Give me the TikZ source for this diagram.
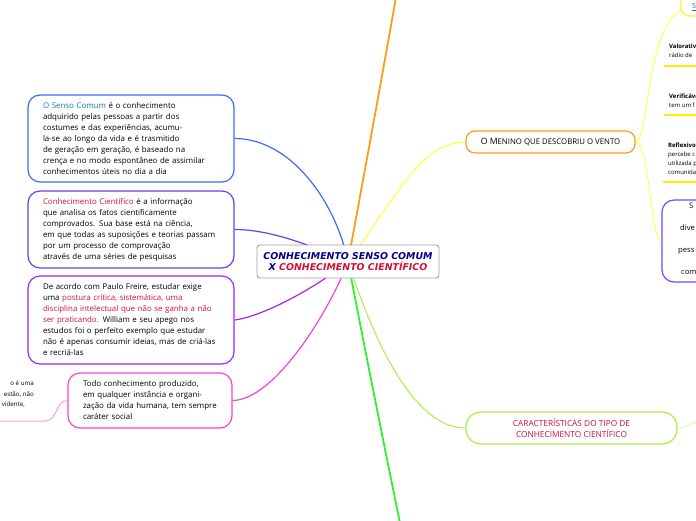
\documentclass[tikz,border=0pt]{standalone}
\usepackage{fontspec}
\setmainfont{Open Sans}
\newfontfamily\cfont{DejaVu Sans}
\usetikzlibrary{backgrounds}
\definecolor{cBlue}{HTML}{3D6BF5}
\definecolor{cViolet}{HTML}{6B3DF0}
\definecolor{cPurple}{HTML}{A526EE}
\definecolor{cPink}{HTML}{FF3FD2}
\definecolor{cPinkL}{HTML}{FF99EE}
\definecolor{cOrange}{HTML}{FF9A1A}
\definecolor{cYellow}{HTML}{FFFF33}
\definecolor{cYG}{HTML}{A8F040}
\definecolor{cYGL}{HTML}{CCFF99}
\definecolor{cGreen}{HTML}{33EE33}
\definecolor{cNavy}{HTML}{00008B}
\definecolor{cRed}{HTML}{D0103A}
\definecolor{cLink}{HTML}{1A78C2}
\definecolor{cRB}{HTML}{7A44FF}
\definecolor{cUnder}{HTML}{FFEE00}
\tikzset{
  textbox/.style={draw, line width=1.2pt, rounded corners=12pt, fill=white, align=left,
    inner xsep=15pt, inner ysep=0pt, font=\fontsize{7.9}{11}\selectfont},
  smalltext/.style={font=\fontsize{6}{9}\selectfont, align=left, inner sep=0pt, anchor=north west},
  conn/.style={line width=1.2pt},
  underln/.style={draw=cUnder, line width=1.6pt},
}
\begin{document}
\begin{tikzpicture}[x=1pt,y=-1pt]
\useasboundingbox (0,0) rectangle (696,520);
\clip (0,0) rectangle (696,520);
% central node
\node[draw=gray!75, line width=0.9pt, rounded corners=3pt, fill=white, minimum width=182pt,
  minimum height=33pt, align=center, inner sep=0pt,
  font=\cfont\bfseries\itshape\fontsize{9.4}{11}\selectfont] (c) at (348,261.5)
  {\textcolor{cNavy}{CONHECIMENTO SENSO COMUM}\\\textcolor{cNavy}{X} \textcolor{cRed}{CONHECIMENTO CIENTÍFICO}};
% left boxes
\node[textbox, draw=cBlue, text width=176pt, minimum height=87pt] (b1) at (131,138.5)
  {\textcolor{cLink}{O Senso Comum} é o conhecimento\\adquirido pelas pessoas a partir dos\\costumes e das experiências, acumu-\\la-se ao longo da vida e é trasmitido\\de geração em geração, é baseado na\\crença e no modo espontâneo de assimilar\\conhecimentos úteis no dia a dia};
\node[textbox, draw=cViolet, text width=176pt, minimum height=77pt] (b2) at (131,229.5)
  {\textcolor{cRed}{Conhecimento Científico} é a informação\\que analisa os fatos cientificamente\\comprovados. Sua base está na ciência,\\em que todas as suposições e teorias passam\\por um processo de comprovação\\através de uma séries de pesquisas};
\node[textbox, draw=cPurple, text width=176pt, minimum height=88pt] (b3) at (131,320)
  {De acordo com Paulo Freire, estudar exige\\uma \textcolor{cRed}{postura crítica, sistemática, uma}\\\textcolor{cRed}{disciplina intelectual que não se ganha a não}\\\textcolor{cRed}{ser praticando.} William e seu apego nos\\estudos foi o perfeito exemplo que estudar\\não é apenas consumir ideias, mas de criá-las\\e recriá-las};
\node[textbox, draw=cPink, text width=134pt, minimum height=55pt] (b4) at (150,400.5)
  {Todo conhecimento produzido,\\em qualquer instância e organi-\\zação da vida humana, tem sempre\\caráter social};
% bottom-left fragment
\node[smalltext, anchor=north east, align=right, font=\fontsize{6.2}{10.5}\selectfont] (bl) at (34,381)
  {o é uma\\estão, não\\vidente,\hspace*{9pt}};
\coordinate (blA) at (-5,421);
\coordinate (blB) at (45,421);
% right side
\node[draw=cOrange, line width=1.2pt, rounded corners=9pt, minimum width=169pt, minimum height=22pt,
  fill=white, inner sep=0pt] (men) at (550.5,142)
  {\fontsize{8.7}{10}\selectfont O M\fontsize{7.8}{10}\selectfont ENINO QUE DESCOBRIU O VENTO};
\node[draw=cYG, line width=1.2pt, rounded corners=15pt, minimum width=211pt, minimum height=32pt,
  fill=white, align=center, text=cRed, inner sep=0pt, font=\fontsize{8.3}{10.5}\selectfont] (car) at (571.5,428)
  {CARACTERÍSTICAS DO TIPO DE\\CONHECIMENTO CIENTÍFICO};
\node[draw=cYellow!90!orange, line width=1.2pt, rounded corners=8pt, minimum width=49pt, minimum height=28pt,
  fill=white, inner sep=0pt] (sn) at (705.5,2) {};
\node[inner sep=0pt, text=cLink, font=\fontsize{7.2}{8}\selectfont] (snt) at (694,7) {\underline{S}};
\node[draw=cRB, line width=1.2pt, rounded corners=12pt, minimum width=78pt, minimum height=82pt,
  fill=white, inner sep=0pt] (rb) at (701,241) {};
\node[inner sep=0pt, anchor=north west, align=left, font=\fontsize{7.6}{22}\selectfont] (rbt) at (678,203)
  {\hspace*{11pt}S\\\hspace*{2pt}dive\\pess\\\hspace*{3pt}com};
\node[smalltext] (val) at (669,44) {\textbf{Valorativ}\\rádio de};
\node[smalltext] (ver) at (669,94) {\textbf{Verificáve}\\tem um f};
\node[smalltext] (ref) at (668,143) {\textbf{Reflexivo}\\percebe c\\utilizada p\\comunida};
\coordinate (u1a) at (664,66);  \coordinate (u1b) at (700,66);
\coordinate (u2a) at (664,115); \coordinate (u2b) at (700,115);
\coordinate (u3a) at (663,182); \coordinate (u3b) at (700,182);
\coordinate (oend) at (396,-3);
\coordinate (gend) at (400,523);
\coordinate (carx) at (700,420);
\draw[underln] (u1a) -- (u1b);
\draw[underln] (u2a) -- (u2b);
\draw[underln] (u3a) -- (u3b);
\begin{pgfonlayer}{background}
\draw[conn, cBlue] (c.center) .. controls (335,200) and (290,138.5) .. (b1.east);
\draw[conn, cViolet] (c.center) .. controls (310,245) and (270,229.5) .. (b2.east);
\draw[conn, cPurple] (c.center) .. controls (320,285) and (265,316) .. (b3.east);
\draw[conn, cPink] (c.center) .. controls (330,310) and (275,400) .. (b4.east);
\draw[cOrange, line width=1.8pt] (c.center) .. controls (365,170) and (385,60) .. (oend);
\draw[cGreen, line width=1.8pt] (c.center) .. controls (365,350) and (385,450) .. (gend);
\draw[cYellow, line width=1pt] (c.center) .. controls (395,200) and (420,142) .. (men.west);
\draw[cYG, line width=1pt] (c.center) .. controls (375,345) and (415,428) .. (car.west);
\draw[cYellow, line width=0.8pt] (men.east) .. controls (650,142) and (645,8) .. (snt.west);
\draw[cYellow, line width=0.8pt] (men.east) .. controls (650,142) and (650,241) .. (rb.west);
\draw[cYGL, line width=0.8pt] (car.east) .. controls (686,428) and (690,424) .. (carx);
\draw[cPinkL, line width=1pt] (blA) -- (blB) .. controls (58,421) and (55,400.5) .. (b4.west);
\end{pgfonlayer}
\end{tikzpicture}
\end{document}
